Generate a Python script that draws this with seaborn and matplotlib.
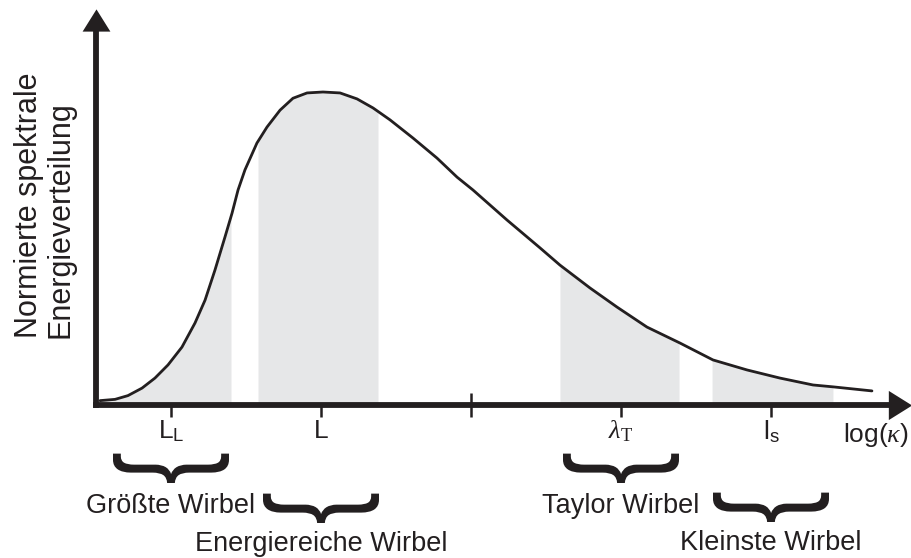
import numpy as np
import pandas as pd
import matplotlib
matplotlib.use("Agg")
import matplotlib.pyplot as plt
import seaborn as sns
from matplotlib.textpath import TextPath
from matplotlib.font_manager import FontProperties
from matplotlib.patches import PathPatch
from matplotlib.path import Path
from matplotlib import transforms as mtransforms

# ---- data ----
kappa = [0.027, 0.127, 0.213, 0.307, 0.393, 0.48, 0.573, 0.66, 0.727, 0.793,
         0.86, 0.907, 0.947, 0.993, 1.073, 1.14, 1.227, 1.313, 1.407, 1.513,
         1.627, 1.74, 1.847, 1.96, 2.113, 2.273, 2.407, 2.513, 2.74, 2.96,
         3.093, 3.293, 3.473, 3.673, 3.893, 4.113, 4.34, 4.56, 4.78, 4.913, 5.173]
energy = [0.014, 0.018, 0.030, 0.054, 0.086, 0.128, 0.185, 0.262, 0.335, 0.431,
          0.537, 0.613, 0.687, 0.751, 0.837, 0.888, 0.942, 0.980, 0.997, 1.0,
          0.997, 0.978, 0.949, 0.911, 0.853, 0.789, 0.728, 0.687, 0.591, 0.502,
          0.447, 0.374, 0.313, 0.249, 0.198, 0.144, 0.112, 0.086, 0.064, 0.058, 0.045]

tick_pos = [0.5, 1.5, 2.5, 3.5, 4.5]
tick_labels = [r"$\mathsf{L}_\mathsf{L}$", "L", "", r"$\lambda_\mathrm{T}$", r"$\mathsf{l}_\mathsf{s}$"]

band_lo = [0.0, 1.08, 3.093, 4.107]
band_hi = [0.9, 1.88, 3.887, 4.913]

brace_pos = [0.5, 1.5, 3.5, 4.5]
brace_labels = ["Größte Wirbel", "Energiereiche Wirbel", "Taylor Wirbel", "Kleinste Wirbel"]
brace_top_px = [452, 492, 452, 491]
label_base_px = [513, 551, 513, 550]

x_label = r"log($\kappa$)"
y_label = "Normierte spektrale\nEnergieverteilung"

# ---- style ----
sns.set_theme(style="white")
plt.rcParams["font.family"] = ["Liberation Sans", "DejaVu Sans"]
plt.rcParams["mathtext.fontset"] = "custom"
plt.rcParams["mathtext.rm"] = "Liberation Serif"
plt.rcParams["mathtext.it"] = "Liberation Serif:italic"
plt.rcParams["mathtext.bf"] = "Liberation Serif:bold"
plt.rcParams["mathtext.sf"] = "Liberation Sans"

INK = "#231f20"
SHADE = "#e6e7e8"
W, H = 912, 558

fig = plt.figure(figsize=(W / 100, H / 100), dpi=100)
fig.patch.set_facecolor("white")
x0_px, y0_px, xr_px, yt_px = 96, 405, 900, 20
ax = fig.add_axes([x0_px / W, 1 - y0_px / H, (xr_px - x0_px) / W, (y0_px - yt_px) / H])
xmax = (xr_px - x0_px) / 150.0
ymax = (y0_px - yt_px) / 313.0
ax.set_xlim(0, xmax)
ax.set_ylim(0, ymax)
ax.set_facecolor("none")

# shaded bands
for lo, hi in zip(band_lo, band_hi):
    xs = [lo] + [k for k in kappa if lo < k < hi] + [hi]
    ys = np.interp(xs, kappa, energy)
    ax.fill_between(xs, 0, ys, color=SHADE, lw=0, zorder=1)

df = pd.DataFrame({"kappa": kappa, "energy": energy})
sns.lineplot(data=df, x="kappa", y="energy", ax=ax, color=INK, linewidth=2.0,
             sort=False, zorder=3)

# axes
for s in ["top", "right"]:
    ax.spines[s].set_visible(False)
for s in ["left", "bottom"]:
    ax.spines[s].set_linewidth(4.2)
    ax.spines[s].set_color(INK)
    ax.spines[s].set_capstyle("projecting")
    ax.spines[s].set_zorder(5)
ax.set_xlabel("")
ax.set_ylabel("")
ax.set_yticks([])
ax.set_xticks(tick_pos, tick_labels)
ax.tick_params(axis="x", bottom=True, direction="inout", length=17, width=1.8,
               color=INK, labelsize=19, labelcolor=INK, pad=1.5)

# arrow heads
right_head = [(-0.8, -1), (0.8, 0), (-0.8, 1), (-0.8, -1)]
up_head = [(-1, -0.8), (0, 0.8), (1, -0.8), (-1, -0.8)]
ax.plot([xmax], [0], marker=right_head, ms=21, color=INK, mew=0, clip_on=False, zorder=6)
ax.plot([0], [ymax], marker=up_head, ms=20, color=INK, mew=0, clip_on=False, zorder=6)

trans = mtransforms.blended_transform_factory(ax.transData, fig.transFigure)

# x label
ax.text((843 - x0_px) / 150.0, 1 - 442 / H, x_label, transform=trans, ha="left",
        va="baseline", fontsize=19, color=INK, clip_on=False)

# y label
fig.text(45 / W, 1 - 205.5 / H, y_label, rotation=90, ha="center", va="center",
         multialignment="left", fontsize=22, color=INK, linespacing=1.05)

# braces
fp = FontProperties(family="Liberation Sans")
tp = TextPath((0, 0), "}", size=1, prop=fp)
gv = tp.vertices.copy()
gc = tp.codes
gx0, gx1 = gv[:, 0].min(), gv[:, 0].max()
gy0, gy1 = gv[:, 1].min(), gv[:, 1].max()
u = (gv[:, 0] - gx0) / (gx1 - gx0)
v = (gv[:, 1] - gy0) / (gy1 - gy0)
BW, BH = 116, 31
for pos, top, lab, base in zip(brace_pos, brace_top_px, brace_labels, label_base_px):
    cx = x0_px + pos * 150.0
    px = cx - BW / 2 + v * BW
    py = top + u * BH
    verts = np.column_stack([px / W, 1 - py / H])
    patch = PathPatch(Path(verts, gc), transform=fig.transFigure, facecolor=INK,
                      edgecolor="none")
    fig.add_artist(patch)
    ax.text(pos, 1 - base / H, lab, transform=trans, ha="center", va="baseline",
            fontsize=19.5, color=INK, clip_on=False)

fig.savefig("out.png", dpi=100, facecolor="white")
